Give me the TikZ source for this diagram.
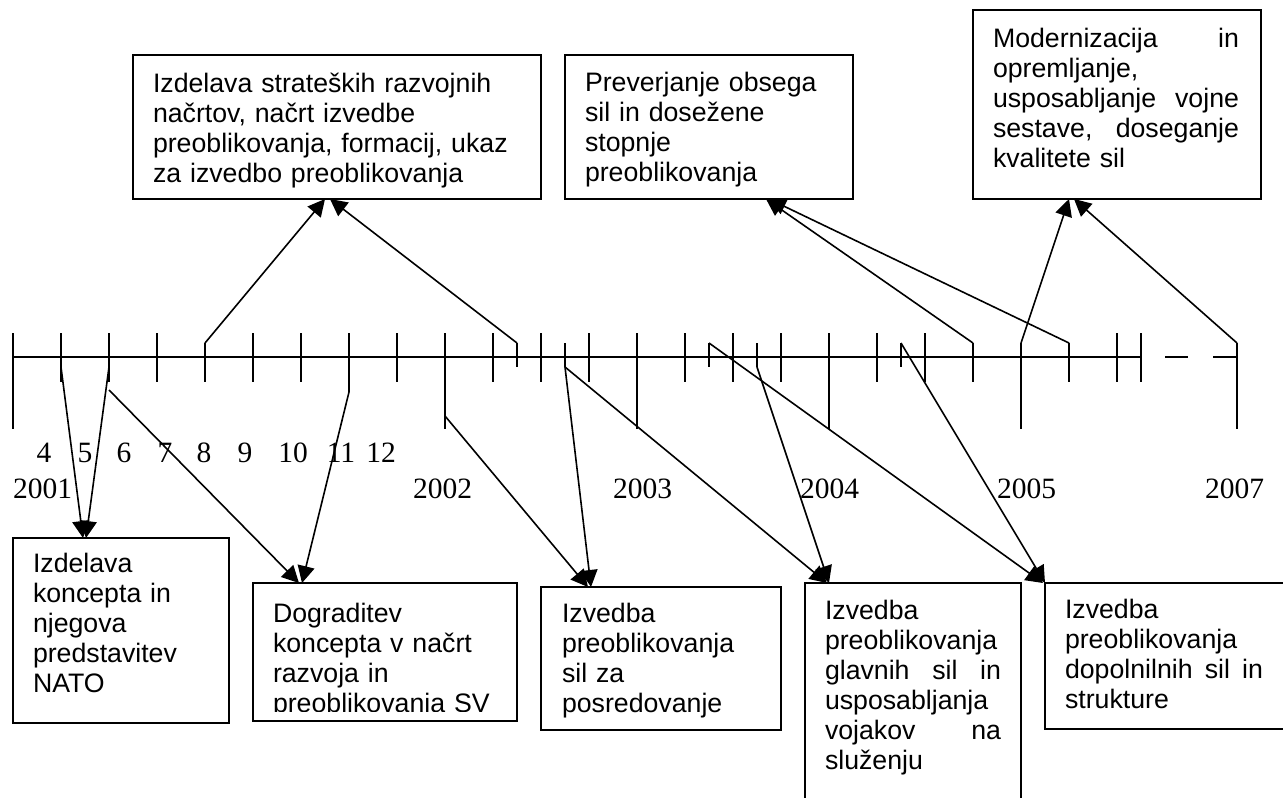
\documentclass[tikz,border=0pt]{standalone}
\usepackage{fontspec}
\setmainfont{Liberation Serif}
\newfontfamily\arialfont{Liberation Sans}
\usetikzlibrary{arrows.meta}
\begin{document}
\hyphenpenalty=10000
\begin{tikzpicture}[x=1pt,y=-1pt,
  tick/.style={line width=1.8pt},
  box/.style={draw, line width=1.8pt, anchor=north west, inner sep=0pt, outer sep=0pt},
  arr/.style={line width=1.6pt, -{Triangle[length=17pt,width=17pt]}},
  btext/.style={anchor=north west, inner sep=0pt, outer sep=0pt, align=left,
                font=\arialfont\fontsize{26.7}{30}\selectfont},
  num/.style={inner sep=0pt, font=\fontsize{29.5}{30}\selectfont},
]
\useasboundingbox (0,0) rectangle (1283,798);
\clip (0,0) rectangle (1283,798);

% ---------- time line ----------
\coordinate (L0) at (13,357);
\coordinate (L1) at (1141,357);
\draw[tick] (L0) -- (L1);
\coordinate (D1a) at (1165,357); \coordinate (D1b) at (1188,357);
\coordinate (D2a) at (1213,357); \coordinate (D2b) at (1237,357);
\draw[tick] (D1a) -- (D1b);
\draw[tick] (D2a) -- (D2b);

% plain short ticks
\foreach \x in {61,109,157,253,301,397,493,541,589,685,733,781,877,925,1117,1141}
  \draw[tick] (\x,333) -- (\x,382);
% long ticks
\foreach \x in {13,445,637,829}
  \draw[tick] (\x,333) -- (\x,429);
% ticks that start below the top
\foreach \x in {205,973,1069}
  \draw[tick] (\x,343) -- (\x,382);
\foreach \x in {517,565,709,757,901}
  \draw[tick] (\x,343) -- (\x,367);
\foreach \x in {1021,1237}
  \draw[tick] (\x,343) -- (\x,429);
\draw[tick] (349,333) -- (349,392);

% arrow start points on the ticks
\coordinate (s61)  at (61,367);
\coordinate (s109) at (109,367);
\coordinate (s109b) at (109,390);
\coordinate (s205) at (205,343);
\coordinate (s349) at (349,392);
\coordinate (s445) at (445,416);
\coordinate (s517) at (517,343);
\coordinate (s565) at (565,367);
\coordinate (s709) at (709,343);
\coordinate (s757) at (757,367);
\coordinate (s901) at (901,343);
\coordinate (s973) at (973,343);
\coordinate (s1021) at (1021,343);
\coordinate (s1069) at (1069,343);
\coordinate (s1237) at (1237,343);

% month and year labels
\foreach \m/\x in {4/44,5/85,6/124,7/165,8/204,9/245,10/293,11/341,12/381}
  \node[num, anchor=base] (m\m) at (\x,462) {\m};
\foreach \y/\x in {2001/13,2002/413,2003/613,2004/800,2005/997,2007/1205}
  \node[num, anchor=base west] (y\y) at (\x,498) {\y};

% ---------- top boxes ----------
\node[box, minimum width=408pt, minimum height=144pt] (T1) at (133,55) {};
\node[btext, text width=372pt] (T1t) at (153,71)
  {\strut Izdelava strateških razvojnih\\načrtov, načrt izvedbe\\preoblikovanja, formacij, ukaz\\za izvedbo preoblikovanja};

\node[box, minimum width=288pt, minimum height=144pt] (T2) at (565,55) {};
\node[btext, text width=250pt] (T2t) at (585,70)
  {\strut Preverjanje obsega\\sil in dosežene\\stopnje\\preoblikovanja};

\node[box, minimum width=288pt, minimum height=189pt] (T3) at (973,10) {};
\node[btext, text width=246pt] (T3t) at (993,26)
  {\strut Modernizacija\hfill in\\opremljanje,\\usposabljanje\hfill vojne\\sestave,\hfill doseganje\\kvalitete sil};

% ---------- bottom boxes ----------
\node[box, minimum width=216pt, minimum height=185pt] (B1) at (13,538) {};
\node[btext, text width=180pt] (B1t) at (33,551)
  {\strut Izdelava\\koncepta in\\njegova\\predstavitev\\NATO};

\node[box, minimum width=264pt, minimum height=138pt] (B2) at (253,583) {};
\begin{scope}
  \clip (253,583) rectangle (517,711);
  \node[btext, text width=230pt] (B2t) at (273,601)
    {\strut Dograditev\\koncepta v načrt\\razvoja in\\preoblikovanja SV};
\end{scope}

\node[box, minimum width=240pt, minimum height=143pt] (B3) at (541,587) {};
\node[btext, text width=195pt] (B3t) at (562,601)
  {\strut Izvedba\\preoblikovanja\\sil za\\posredovanje};

\node[box, minimum width=216pt, minimum height=240pt] (B4) at (805,583) {};
\node[btext, text width=176pt] (B4t) at (825,598)
  {\strut Izvedba\\preoblikovanja\\glavnih\hfill sil\hfill in\\usposabljanja\\vojakov\hfill na\\služenju};

\node[box, minimum width=260pt, minimum height=146pt] (B5) at (1045,583) {};
\node[btext, text width=198pt] (B5t) at (1065,597)
  {\strut Izvedba\\preoblikovanja\\dopolnilnih\hfill sil\hfill in\\strukture};

% ---------- arrow tips on the box edges ----------
\path (B1.north west) ++(70,0) coordinate (B1a) ++(3,0) coordinate (B1b);
\path (B2.north west) ++(46,0) coordinate (B2a) ++(3,0) coordinate (B2b);
\path (B3.north west) ++(47,0) coordinate (B3a) ++(3,0) coordinate (B3b);
\path (B4.north west) ++(22,0) coordinate (B4a) ++(2,0) coordinate (B4b);
\path (B5.north west) ++(-2,0) coordinate (B5a) ++(2,0) coordinate (B5b);
\path (T1.south west) ++(192,0) coordinate (T1a) ++(5,0) coordinate (T1b);
\path (T2.south west) ++(201,0) coordinate (T2a) ++(3,0) coordinate (T2b);
\path (T3.south west) ++(96,0) coordinate (T3a) ++(5,0) coordinate (T3b);

% ---------- connectors ----------
\draw[arr] (s61) -- (B1a);
\draw[arr] (s109) -- (B1b);
\draw[arr] (s109b) -- (B2a);
\draw[arr] (s349) -- (B2b);
\draw[arr] (s445) -- (B3a);
\draw[arr] (s565) -- (B3b);
\draw[arr] (s565) -- (B4a);
\draw[arr] (s757) -- (B4b);
\draw[arr] (s709) -- (B5a);
\draw[arr] (s901) -- (B5b);
\draw[arr] (s205) -- (T1a);
\draw[arr] (s517) -- (T1b);
\draw[arr] (s973) -- (T2a);
\draw[arr] (s1069) -- (T2b);
\draw[arr] (s1021) -- (T3a);
\draw[arr] (s1237) -- (T3b);
\end{tikzpicture}
\end{document}
